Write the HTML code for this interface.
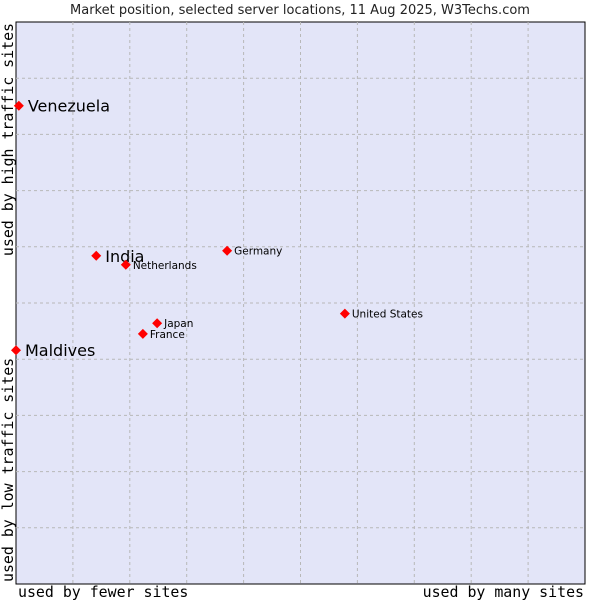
<!DOCTYPE html>
<html><head><meta charset="utf-8"><style>
body{margin:0;background:#fff;width:600px;height:600px;overflow:hidden}
svg text{font-family:"DejaVu Sans","Liberation Sans",sans-serif}
.mono{font-family:"DejaVu Sans Mono","Liberation Mono",monospace}
</style></head><body>
<svg width="600" height="600">
<text x="300" y="14" text-anchor="middle" font-size="13" fill="#222">Market position, selected server locations, 11 Aug 2025, W3Techs.com</text>
<rect x="16" y="22" width="569" height="562" fill="#e3e5f8" stroke="#000" stroke-width="1"/>
<g id="grid"></g>
<g id="pts"></g>
<text class="mono" x="18" y="597" font-size="14.9" fill="#000">used by fewer sites</text>
<text class="mono" x="584" y="597" font-size="14.9" text-anchor="end" fill="#000">used by many sites</text>
<text class="mono" transform="translate(13,582) rotate(-90)" font-size="14.9" fill="#000">used by low traffic sites</text>
<text class="mono" transform="translate(13,23) rotate(-90)" font-size="14.9" text-anchor="end" fill="#000">used by high traffic sites</text>
</svg>
<script>
const names=["Venezuela","India","Netherlands","Germany","United States","Japan","France","Maldives"];
const xVals=[0.05,1.41,1.93,3.71,5.78,2.48,2.23,0.0];
const yVals=[8.51,5.84,5.68,5.93,4.81,4.64,4.45,4.16];
const bigLabel=[true,true,false,false,false,false,false,true];
const X0=16,X1=585,Y0=584,Y1=22;
const sx=v=>X0+v/10*(X1-X0), sy=v=>Y0-v/10*(Y0-Y1);
const ns="http://www.w3.org/2000/svg";
const g=document.getElementById('grid');
for(let i=1;i<10;i++){
 let l=document.createElementNS(ns,'line');
 
 
 l.setAttribute('x1',sx(i));l.setAttribute('x2',sx(i));l.setAttribute('y1',Y1);l.setAttribute('y2',Y0);
 l.setAttribute('stroke','#b8b8b8');l.setAttribute('stroke-dasharray','3,3');g.appendChild(l);
 let h=document.createElementNS(ns,'line');
 
 
 h.setAttribute('y1',sy(i));h.setAttribute('y2',sy(i));h.setAttribute('x1',X0);h.setAttribute('x2',X1);
 h.setAttribute('stroke','#b8b8b8');h.setAttribute('stroke-dasharray','3,3');g.appendChild(h);
}
const p=document.getElementById('pts');
names.forEach((n,i)=>{
 const x=sx(xVals[i]),y=sy(yVals[i]);
 let d=document.createElementNS(ns,'polygon');
 
 
 d.setAttribute('points',`${x},${y-5} ${x+5},${y} ${x},${y+5} ${x-5},${y}`);
 d.setAttribute('fill','#f00');p.appendChild(d);
 let t=document.createElementNS(ns,'text');
 
 
 t.setAttribute('x',x+(bigLabel[i]?9:7));t.setAttribute('y',y+(bigLabel[i]?6:4));
 t.setAttribute('font-size',bigLabel[i]?16:10.5);t.setAttribute('fill','#000');
 t.textContent=n;p.appendChild(t);
});
</script>
</body></html>
